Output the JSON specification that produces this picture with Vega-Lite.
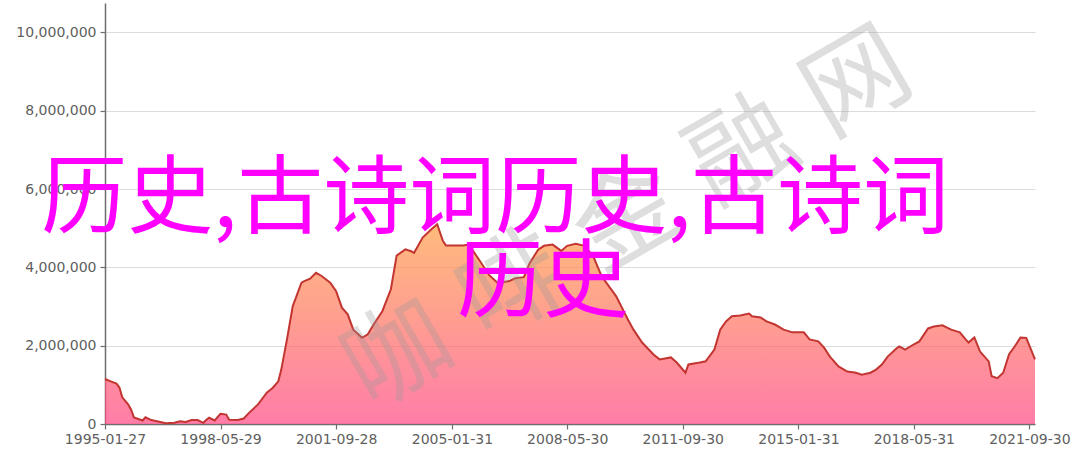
{
  "$schema": "https://vega.github.io/schema/vega-lite/v6.json",
  "width": 930,
  "height": 421,
  "autosize": "none",
  "padding": {"left": 105, "top": 3, "right": 45, "bottom": 33},
  "background": "white",
  "config": {
    "view": {"stroke": null},
    "axis": {
      "labelFont": "DejaVu Sans",
      "labelFontSize": 14,
      "labelColor": "#606060",
      "domainColor": "#6e6e6e",
      "domainWidth": 1.5,
      "tickColor": "#6e6e6e",
      "tickSize": 5,
      "tickWidth": 1.2,
      "labelOverlap": false,
      "labelFlush": false,
      "title": null
    }
  },
  "datasets": {
    "series": [
      {"date": "1995-01-27", "value": 1150000},
      {"date": "1995-03-28", "value": 1090000},
      {"date": "1995-05-28", "value": 1030000},
      {"date": "1995-06-28", "value": 930000},
      {"date": "1995-07-28", "value": 680000},
      {"date": "1995-09-28", "value": 500000},
      {"date": "1995-10-28", "value": 370000},
      {"date": "1995-11-28", "value": 170000},
      {"date": "1996-02-28", "value": 90000},
      {"date": "1996-03-28", "value": 170000},
      {"date": "1996-05-28", "value": 100000},
      {"date": "1996-07-28", "value": 70000},
      {"date": "1996-10-28", "value": 20000},
      {"date": "1997-01-28", "value": 30000},
      {"date": "1997-03-28", "value": 70000},
      {"date": "1997-05-28", "value": 50000},
      {"date": "1997-07-28", "value": 100000},
      {"date": "1997-09-28", "value": 100000},
      {"date": "1997-11-28", "value": 30000},
      {"date": "1997-12-28", "value": 100000},
      {"date": "1998-01-28", "value": 160000},
      {"date": "1998-03-28", "value": 90000},
      {"date": "1998-05-28", "value": 260000},
      {"date": "1998-07-28", "value": 240000},
      {"date": "1998-08-28", "value": 110000},
      {"date": "1998-11-28", "value": 100000},
      {"date": "1999-01-28", "value": 140000},
      {"date": "1999-03-28", "value": 290000},
      {"date": "1999-06-28", "value": 500000},
      {"date": "1999-09-28", "value": 800000},
      {"date": "1999-11-28", "value": 920000},
      {"date": "2000-01-28", "value": 1090000},
      {"date": "2000-02-28", "value": 1390000},
      {"date": "2000-04-28", "value": 2160000},
      {"date": "2000-06-28", "value": 3010000},
      {"date": "2000-09-28", "value": 3610000},
      {"date": "2000-10-28", "value": 3650000},
      {"date": "2000-12-28", "value": 3710000},
      {"date": "2001-02-28", "value": 3860000},
      {"date": "2001-04-28", "value": 3780000},
      {"date": "2001-07-28", "value": 3610000},
      {"date": "2001-09-28", "value": 3390000},
      {"date": "2001-11-28", "value": 2970000},
      {"date": "2002-01-28", "value": 2800000},
      {"date": "2002-03-28", "value": 2410000},
      {"date": "2002-05-28", "value": 2270000},
      {"date": "2002-06-28", "value": 2200000},
      {"date": "2002-08-28", "value": 2290000},
      {"date": "2002-10-28", "value": 2540000},
      {"date": "2003-01-28", "value": 2880000},
      {"date": "2003-04-28", "value": 3440000},
      {"date": "2003-06-28", "value": 4300000},
      {"date": "2003-09-28", "value": 4460000},
      {"date": "2003-11-28", "value": 4410000},
      {"date": "2003-12-28", "value": 4370000},
      {"date": "2004-01-28", "value": 4500000},
      {"date": "2004-03-28", "value": 4760000},
      {"date": "2004-06-28", "value": 4970000},
      {"date": "2004-08-28", "value": 5100000},
      {"date": "2004-10-28", "value": 4670000},
      {"date": "2004-11-28", "value": 4560000},
      {"date": "2005-05-28", "value": 4560000},
      {"date": "2005-07-28", "value": 4580000},
      {"date": "2005-10-28", "value": 4250000},
      {"date": "2006-02-28", "value": 3800000},
      {"date": "2006-05-28", "value": 3600000},
      {"date": "2006-09-28", "value": 3650000},
      {"date": "2006-11-28", "value": 3720000},
      {"date": "2007-02-28", "value": 3750000},
      {"date": "2007-04-28", "value": 4100000},
      {"date": "2007-07-28", "value": 4450000},
      {"date": "2007-09-28", "value": 4550000},
      {"date": "2007-12-28", "value": 4580000},
      {"date": "2008-03-28", "value": 4420000},
      {"date": "2008-05-28", "value": 4550000},
      {"date": "2008-08-28", "value": 4600000},
      {"date": "2008-11-28", "value": 4550000},
      {"date": "2009-02-28", "value": 4280000},
      {"date": "2009-05-28", "value": 3770000},
      {"date": "2009-10-28", "value": 3260000},
      {"date": "2010-02-28", "value": 2670000},
      {"date": "2010-04-28", "value": 2410000},
      {"date": "2010-07-28", "value": 2080000},
      {"date": "2010-11-28", "value": 1770000},
      {"date": "2011-01-28", "value": 1650000},
      {"date": "2011-05-28", "value": 1700000},
      {"date": "2011-07-28", "value": 1570000},
      {"date": "2011-10-28", "value": 1310000},
      {"date": "2011-11-28", "value": 1520000},
      {"date": "2012-03-28", "value": 1570000},
      {"date": "2012-05-28", "value": 1600000},
      {"date": "2012-08-28", "value": 1900000},
      {"date": "2012-10-28", "value": 2410000},
      {"date": "2012-12-28", "value": 2620000},
      {"date": "2013-02-28", "value": 2750000},
      {"date": "2013-05-28", "value": 2770000},
      {"date": "2013-08-28", "value": 2820000},
      {"date": "2013-09-28", "value": 2750000},
      {"date": "2013-12-28", "value": 2720000},
      {"date": "2014-02-28", "value": 2620000},
      {"date": "2014-05-28", "value": 2540000},
      {"date": "2014-08-28", "value": 2410000},
      {"date": "2014-11-28", "value": 2340000},
      {"date": "2015-03-28", "value": 2340000},
      {"date": "2015-05-28", "value": 2160000},
      {"date": "2015-08-28", "value": 2110000},
      {"date": "2015-10-28", "value": 1950000},
      {"date": "2015-12-28", "value": 1720000},
      {"date": "2016-03-28", "value": 1470000},
      {"date": "2016-06-28", "value": 1340000},
      {"date": "2016-09-28", "value": 1310000},
      {"date": "2016-11-28", "value": 1260000},
      {"date": "2017-02-28", "value": 1310000},
      {"date": "2017-04-28", "value": 1390000},
      {"date": "2017-06-28", "value": 1520000},
      {"date": "2017-08-28", "value": 1720000},
      {"date": "2017-11-28", "value": 1930000},
      {"date": "2017-12-28", "value": 1980000},
      {"date": "2018-02-28", "value": 1900000},
      {"date": "2018-05-28", "value": 2030000},
      {"date": "2018-07-28", "value": 2110000},
      {"date": "2018-10-28", "value": 2440000},
      {"date": "2018-12-28", "value": 2490000},
      {"date": "2019-03-28", "value": 2520000},
      {"date": "2019-06-28", "value": 2410000},
      {"date": "2019-09-28", "value": 2340000},
      {"date": "2019-11-28", "value": 2160000},
      {"date": "2019-12-28", "value": 2080000},
      {"date": "2020-02-28", "value": 2210000},
      {"date": "2020-04-28", "value": 1850000},
      {"date": "2020-07-28", "value": 1600000},
      {"date": "2020-08-28", "value": 1220000},
      {"date": "2020-10-28", "value": 1170000},
      {"date": "2020-12-28", "value": 1310000},
      {"date": "2021-02-28", "value": 1780000},
      {"date": "2021-04-28", "value": 1980000},
      {"date": "2021-06-28", "value": 2210000},
      {"date": "2021-08-28", "value": 2200000},
      {"date": "2021-11-28", "value": 1650000}
    ],
    "watermark": [
      {"date": "2003-07-31", "value": 1700000, "ch": "咖"},
      {"date": "2006-11-20", "value": 3450000, "ch": "啡"},
      {"date": "2010-03-10", "value": 5190000, "ch": "金"},
      {"date": "2013-07-01", "value": 6900000, "ch": "融"},
      {"date": "2016-10-20", "value": 8650000, "ch": "网"}
    ],
    "overlay": [
      {"date": "2006-05-01", "value": 5690000, "label": "历史,古诗词历史,古诗词"},
      {"date": "2007-09-17", "value": 3540000, "label": "历史"}
    ]
  },
  "encoding": {
    "x": {
      "field": "date",
      "type": "temporal",
      "scale": {
        "type": "utc",
        "domain": [
          {"year": 1995, "month": 1, "date": 27, "utc": true},
          {"year": 2021, "month": 11, "date": 28, "utc": true}
        ]
      },
      "axis": {
        "format": "%Y-%m-%d",
        "grid": false,
        "labelPadding": 3,
        "values": [
          {"year": 1995, "month": 1, "date": 27, "utc": true},
          {"year": 1998, "month": 5, "date": 29, "utc": true},
          {"year": 2001, "month": 9, "date": 28, "utc": true},
          {"year": 2005, "month": 1, "date": 31, "utc": true},
          {"year": 2008, "month": 5, "date": 30, "utc": true},
          {"year": 2011, "month": 9, "date": 30, "utc": true},
          {"year": 2015, "month": 1, "date": 31, "utc": true},
          {"year": 2018, "month": 5, "date": 31, "utc": true},
          {"year": 2021, "month": 9, "date": 30, "utc": true}
        ]
      }
    },
    "y": {
      "field": "value",
      "type": "quantitative",
      "scale": {"domain": [0, 10750000], "nice": false, "zero": true},
      "axis": {
        "values": [0, 2000000, 4000000, 6000000, 8000000, 10000000],
        "format": ",d",
        "grid": true,
        "gridColor": "#dcdcdc",
        "gridWidth": 1,
        "labelPadding": 4
      }
    }
  },
  "layer": [
    {
      "data": {"name": "series"},
      "mark": {
        "type": "area",
        "fill": {
          "gradient": "linear",
          "x1": 0, "y1": 0, "x2": 0, "y2": 1,
          "stops": [
            {"offset": 0, "color": "rgb(255,158,68)"},
            {"offset": 1, "color": "rgb(255,70,131)"}
          ]
        },
        "fillOpacity": 0.7
      }
    },
    {
      "data": {"name": "series"},
      "mark": {"type": "line", "color": "#c23531", "strokeWidth": 2}
    },
    {
      "data": {"name": "watermark"},
      "mark": {
        "type": "text",
        "font": "Noto Sans CJK SC",
        "fontSize": 104,
        "angle": -30,
        "align": "center",
        "baseline": "middle",
        "fill": "#9a9a9a",
        "opacity": 0.32
      },
      "encoding": {"text": {"field": "ch"}}
    },
    {
      "data": {"name": "overlay"},
      "mark": {
        "type": "text",
        "font": "Noto Sans CJK SC",
        "fontSize": 86,
        "align": "center",
        "baseline": "middle",
        "fill": "#ff00ff"
      },
      "encoding": {"text": {"field": "label"}}
    }
  ]
}
